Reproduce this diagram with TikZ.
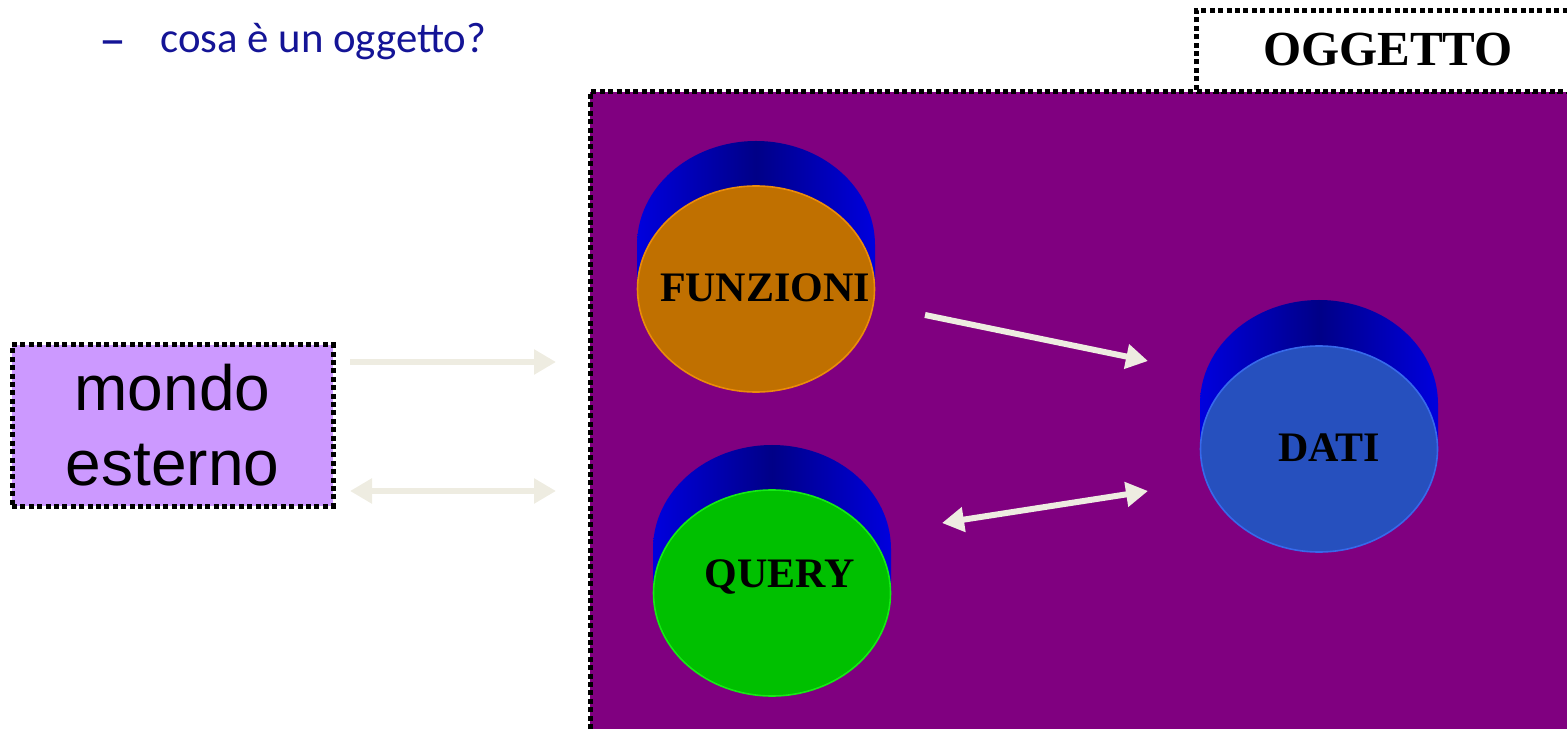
\documentclass[tikz,border=0pt]{standalone}
\usepackage{fontspec}
\setmainfont{Liberation Serif}
\newfontfamily\mondofont{Liberation Sans}
\newfontfamily\titlefont{Carlito}
\usetikzlibrary{arrows.meta}

\definecolor{bgpurple}{RGB}{128,0,128}
\definecolor{mondofill}{RGB}{204,153,255}
\definecolor{arrowcream}{RGB}{238,236,225}
\definecolor{titleblue}{RGB}{20,20,150}
\definecolor{sideblue}{RGB}{0,0,222}
\definecolor{sidedark}{RGB}{0,0,135}
\definecolor{funzfill}{RGB}{192,112,0}
\definecolor{funzrim}{RGB}{235,140,10}
\definecolor{queryfill}{RGB}{0,192,0}
\definecolor{queryrim}{RGB}{20,235,20}
\definecolor{datifill}{RGB}{38,80,190}
\definecolor{datirim}{RGB}{55,105,235}

\tikzset{
  dotbox/.style={draw=black,line width=2.5pt,dash pattern=on 2.5pt off 1.7pt},
  flow/.style={draw=arrowcream,line width=3pt,-{Triangle[length=11pt,width=12pt]}},
  flowboth/.style={flow,{Triangle[length=11pt,width=12pt]}-{Triangle[length=11pt,width=12pt]}},
  disklabel/.style={font=\fontsize{21}{21}\selectfont\bfseries,text=black,inner sep=0pt},
  diskside/.style={left color=sideblue,right color=sideblue,middle color=sidedark},
}

\begin{document}
\begin{tikzpicture}[x=0.5pt,y=-0.5pt]
  \useasboundingbox (0,0) rectangle (1567,731);

  \node[anchor=base west,text=titleblue,font=\titlefont\fontsize{27}{27}\selectfont,inner sep=0pt]
    (trattino) at (99,58) {–};
  \node[anchor=base west,text=titleblue,font=\titlefont\fontsize{21.4}{21.4}\selectfont,inner sep=0pt]
    (titolo) at (160,53) {cosa è un oggetto?};

  % the object: purple area with its tag
  \fill[bgpurple] (590,92) rectangle (1580,729);
  \draw[dotbox] (590,729) -- (590,92) -- (1580,92);
  \draw[dotbox,fill=white] (1580,92) -- (1196,92) -- (1196,11) -- (1580,11);
  \node[font=\fontsize{24.5}{24.5}\selectfont\bfseries,inner sep=0pt] (oggetto) at (1388,50) {OGGETTO};

  \node[dotbox,fill=mondofill,minimum width=160.5pt,minimum height=80.5pt,align=center,
    font=\mondofont\fontsize{32}{37.5}\selectfont] (mondo) at (172.5,425.5) {mondo\\esterno};

  % disks: blue side, then coloured front face
  \shade[diskside] (637,289) -- (637,245)
    arc[start angle=180,end angle=360,x radius=119,y radius=104] -- (875,289) -- cycle;
  \filldraw[fill=funzfill,draw=funzrim,line width=0.8pt] (756,289) ellipse [x radius=118.5,y radius=103];
  \node[disklabel] (funzioni) at (765,288) {FUNZIONI};

  \shade[diskside] (653,593) -- (653,549)
    arc[start angle=180,end angle=360,x radius=119,y radius=104] -- (891,593) -- cycle;
  \filldraw[fill=queryfill,draw=queryrim,line width=0.8pt] (772,593) ellipse [x radius=118.5,y radius=103];
  \node[disklabel] (query) at (780,577) {QUERY};

  \shade[diskside] (1200,449) -- (1200,404)
    arc[start angle=180,end angle=360,x radius=119,y radius=104] -- (1438,449) -- cycle;
  \filldraw[fill=datifill,draw=datirim,line width=0.8pt] (1319,449) ellipse [x radius=118.5,y radius=103];
  \node[disklabel] (dati) at (1329,448) {DATI};

  % arrow ends
  \coordinate (mondoout) at (350,362);
  \coordinate (oggin) at (556,362);
  \coordinate (mondoio) at (350,491);
  \coordinate (oggio) at (556,491);
  \coordinate (funzout) at (925,315);
  \coordinate (datiin) at (1148,361);
  \coordinate (queryio) at (942,523);
  \coordinate (datiio) at (1148,491);

  \draw[flow] (mondoout) -- (oggin);
  \draw[flowboth] (mondoio) -- (oggio);
  \draw[flow] (funzout) -- (datiin);
  \draw[flowboth] (queryio) -- (datiio);
\end{tikzpicture}
\end{document}
